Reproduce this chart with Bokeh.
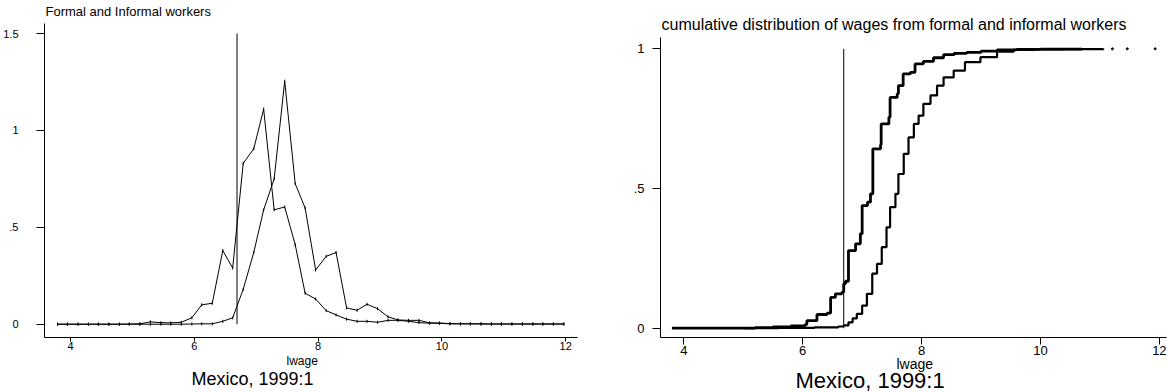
import math
from bokeh.plotting import figure
from bokeh.layouts import row
from bokeh.models import FixedTicker, Title, Range1d
from bokeh.embed import file_html
from bokeh.resources import INLINE

FONT = "Liberation Sans"

# ---------------- data: left panel (densities of lwage) ----------------
lwage_bins = [3.79, 3.95, 4.12, 4.29, 4.45, 4.62, 4.79, 4.95, 5.12, 5.29,
              5.46, 5.62, 5.79, 5.96, 6.12, 6.29, 6.46, 6.62, 6.79, 6.96,
              7.12, 7.29, 7.46, 7.63, 7.79, 7.96, 8.13, 8.29, 8.46, 8.63,
              8.79, 8.96, 9.13, 9.29, 9.46, 9.63, 9.80, 9.96, 10.13, 10.30,
              10.46, 10.63, 10.80, 10.96, 11.13, 11.30, 11.47, 11.63, 11.80, 11.97]
informal_density = [0, 0, 0, 0, 0, 0, 0, 0.001, 0.002, 0.012,
                    0.008, 0.007, 0.01, 0.033, 0.10, 0.108, 0.38, 0.29, 0.83, 0.905,
                    1.11, 0.59, 0.605, 0.41, 0.16, 0.13, 0.07, 0.048, 0.026, 0.015,
                    0.015, 0.01, 0.02, 0.02, 0.015, 0.008, 0.005, 0.005, 0.002, 0.002,
                    0.002, 0.001, 0.001, 0.001, 0.001, 0.001, 0.001, 0.001, 0.001, 0.001]
formal_density = [0, 0, 0, 0, 0, 0, 0, 0, 0, 0,
                  0, 0, 0, 0.001, 0.002, 0.002, 0.015, 0.033, 0.18, 0.37,
                  0.59, 0.75, 1.254, 0.725, 0.60, 0.28, 0.35, 0.37, 0.084, 0.072,
                  0.103, 0.08, 0.038, 0.022, 0.02, 0.02, 0.007, 0.006, 0.003, 0.002,
                  0.002, 0.002, 0.001, 0.001, 0.001, 0.001, 0.001, 0.001, 0.001, 0.001]

# ---------------- data: right panel (cumulative distributions) ----------------
informal_cdf_x = [3.80, 5.20, 5.50, 5.80, 6.04, 6.07, 6.24, 6.41, 6.47, 6.55,
                  6.66, 6.69, 6.72, 6.77, 6.89, 6.97, 7.00, 7.09, 7.14, 7.18,
                  7.31, 7.32, 7.45, 7.47, 7.59, 7.61, 7.69, 7.81, 7.89, 8.03,
                  8.20, 8.37, 8.55, 8.76, 9.00, 9.27, 9.60, 10.00, 10.70]
informal_cdf = [0.0, 0.002, 0.005, 0.008, 0.013, 0.027, 0.049, 0.054, 0.11, 0.123,
                0.129, 0.159, 0.168, 0.278, 0.302, 0.338, 0.439, 0.451, 0.481, 0.642,
                0.657, 0.731, 0.755, 0.826, 0.839, 0.868, 0.910, 0.916, 0.946, 0.955,
                0.968, 0.979, 0.984, 0.987, 0.992, 0.996, 0.998, 0.999, 1.0]
formal_cdf_x = [5.00, 5.60, 6.20, 6.60, 6.69, 6.77, 6.84, 6.91, 7.00, 7.08,
                7.17, 7.25, 7.33, 7.41, 7.47, 7.56, 7.61, 7.70, 7.78, 7.87,
                7.95, 8.03, 8.15, 8.26, 8.37, 8.54, 8.73, 8.99, 9.27, 9.55,
                9.90, 10.40, 11.06]
formal_cdf = [0.0, 0.001, 0.003, 0.006, 0.01, 0.021, 0.035, 0.051, 0.081, 0.123,
              0.195, 0.23, 0.29, 0.361, 0.433, 0.481, 0.552, 0.624, 0.683, 0.731,
              0.761, 0.803, 0.833, 0.868, 0.898, 0.922, 0.952, 0.97, 0.99, 0.996,
              0.998, 0.999, 1.0]
tail_x = [11.21, 11.46, 11.93]
tail_cdf = [1.0, 1.0, 1.0]

cutoff = [6.69]
left_cut_top = [1.5]
right_cut_top = [1.0]

x_ticks = [4, 6, 8, 10, 12]
left_y_ticks = [0, 0.5, 1, 1.5]
right_y_ticks = [0, 0.5, 1]
y_tick_labels = {0: "0", 0.5: ".5", 1: "1", 1.5: "1.5"}

left_title = "Formal and Informal workers"
right_title = "cumulative distribution of wages from formal and informal workers"
x_label = "lwage"
note = "Mexico, 1999:1"


def style(p, tick_size, y_ticks, x_tick_out, y_tick_out, x_standoff, y_standoff):
    p.outline_line_color = None
    p.xgrid.visible = False
    p.ygrid.visible = False
    p.background_fill_color = "white"
    p.border_fill_color = "white"
    p.xaxis.ticker = FixedTicker(ticks=x_ticks, minor_ticks=[])
    p.yaxis.ticker = FixedTicker(ticks=y_ticks, minor_ticks=[])
    p.yaxis.major_label_overrides = {k: v for k, v in y_tick_labels.items() if k in y_ticks}
    for ax, out, so in ((p.xaxis, x_tick_out, x_standoff), (p.yaxis, y_tick_out, y_standoff)):
        ax.axis_line_color = "black"
        ax.axis_line_width = 1
        ax.major_tick_line_color = "black"
        ax.major_tick_out = out
        ax.major_tick_in = 0
        ax.minor_tick_out = 0
        ax.minor_tick_in = 0
        ax.major_label_text_font = FONT
        ax.major_label_text_font_size = f"{tick_size}px"
        ax.major_label_text_color = "black"
        ax.major_label_standoff = so
    p.yaxis.major_label_orientation = "horizontal"


def make_title(s, size, offset, standoff, valign):
    return Title(text=s, align="left", offset=offset, standoff=standoff,
                 vertical_align=valign,
                 text_font=FONT, text_font_size=f"{size}px",
                 text_font_style="normal", text_color="black")


# ---------------- left figure (frame x 44..577, y 23..337) ----------------
p1 = figure(width=620, height=392, output_backend="svg", toolbar_location=None,
            x_range=Range1d(3.58, 12.19), y_range=Range1d(-0.0686, 1.5516),
            min_border_left=44, min_border_right=43, min_border_top=23, min_border_bottom=55)
style(p1, 11, left_y_ticks, 4, 8, 0, 18)
for series in (informal_density, formal_density):
    p1.line(lwage_bins, series, line_color="black", line_width=1)
    p1.scatter(lwage_bins, series, marker="dash", angle=math.pi / 2, size=3,
               line_color="black", line_width=1)
p1.segment(x0=cutoff, y0=[0], x1=cutoff, y1=left_cut_top, line_color="black", line_width=1)
p1.title = make_title(left_title, 13, 1, 6, "top")
p1.add_layout(make_title(x_label, 12, 242, 2, "top"), "below")
p1.add_layout(make_title(note, 18, 147, -2.1, "top"), "below")

# ---------------- right figure (frame x 660..1166, y 23..337) ----------------
p2 = figure(width=548, height=392, output_backend="svg", toolbar_location=None,
            x_range=Range1d(3.608, 12.12), y_range=Range1d(-0.0333, 1.0906),
            min_border_left=40, min_border_right=2, min_border_top=23, min_border_bottom=55)
style(p2, 13, right_y_ticks, 7, 8, 1, 8)
p2.yaxis.bounds = (-0.0333, 1.04)
p2.step(informal_cdf_x, informal_cdf, mode="after", line_color="black", line_width=2.8)
p2.step(formal_cdf_x, formal_cdf, mode="after", line_color="black", line_width=2.2)
p2.scatter(tail_x, tail_cdf, size=2, color="black")
p2.segment(x0=cutoff, y0=[0], x1=cutoff, y1=right_cut_top, line_color="black", line_width=1)
p2.title = make_title(right_title, 16, 1, -18.4, "bottom")
p2.add_layout(make_title(x_label, 14, 236, -3.5, "top"), "below")
p2.add_layout(make_title(note, 22, 135, -10, "top"), "below")

layout = row(p1, p2)
open("out.html", "w").write(file_html(layout, INLINE))
